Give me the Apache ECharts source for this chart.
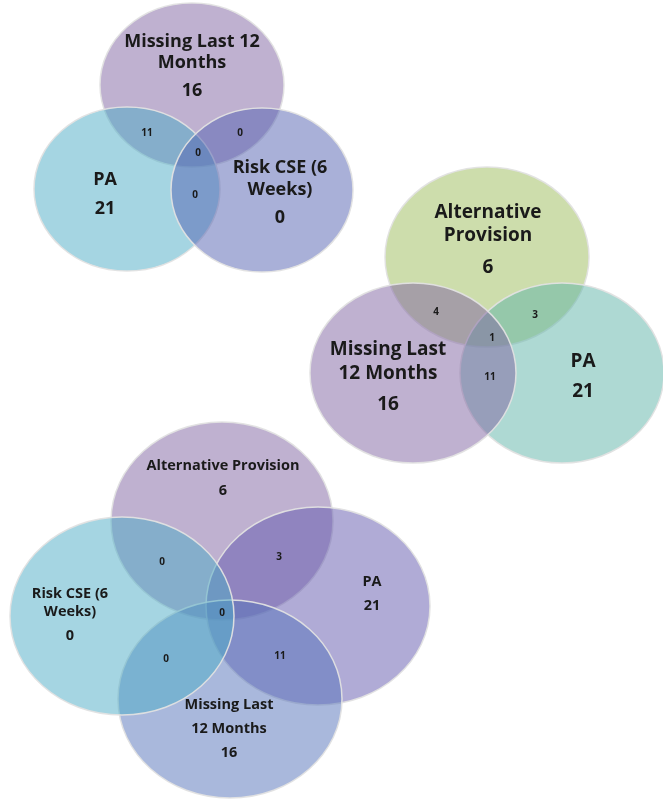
<!DOCTYPE html>
<html>
<head>
<meta charset="utf-8">
<script src="https://cdn.jsdelivr.net/npm/echarts@6/dist/echarts.min.js"></script>
<style>
  html, body { margin: 0; padding: 0; background: #fff; }
  #chart { width: 663px; height: 805px; }
</style>
</head>
<body>
<div id="chart"></div>
<script>
// 数据：每个韦恩图的集合名称、数量和交集数量
const topSets = ['Missing Last 12\nMonths', 'PA', 'Risk CSE (6\nWeeks)']
const topCounts = [16, 21, 0]
const topOverlaps = [11, 0, 0, 0] // Missing∩PA, Missing∩Risk, 三者, PA∩Risk

const midSets = ['Alternative\nProvision', 'PA', 'Missing Last\n12 Months']
const midCounts = [6, 21, 16]
const midOverlaps = [4, 3, 1, 11] // Alt∩Missing, Alt∩PA, 三者, PA∩Missing

const lowSets = ['Alternative Provision', 'PA', 'Missing Last\n12 Months', 'Risk CSE (6\nWeeks)']
const lowCounts = [6, 21, 16, 0]
const lowOverlaps = [0, 3, 0, 0, 11] // Alt∩Risk, Alt∩PA, 中心, Risk∩Missing, PA∩Missing

// 布局（坐标轴单位 = 像素）：椭圆 [cx, cy, rx, ry]，标签 [x, 名称y, 数量y, 行高]
const layout = {
  top: {
    ellipses: [[192, 85, 92, 82], [127, 189, 93, 82], [262, 190, 91, 82]],
    colors: ['#8064A2', '#4BACC6', '#5361B1'],
    labels: [[192, 52, 91, 21], [105, 180, 209, 21], [280, 179, 218, 22]],
    overlapPos: [[147, 133], [240, 133], [198, 153], [195, 195]],
    font: 18
  },
  mid: {
    ellipses: [[487, 257, 102, 90], [562, 373, 102, 90], [413, 373, 103, 90]],
    colors: ['#9BBB59', '#5DB3A7', '#8064A2'],
    labels: [[488, 224, 268, 23], [583, 362, 392, 23], [388, 362, 405, 24]],
    overlapPos: [[436, 312], [535, 315], [492, 338], [490, 377]],
    font: 19
  },
  low: {
    ellipses: [[222, 521, 111, 99], [318, 606, 112, 99], [230, 699, 112, 99], [122, 616, 112, 99]],
    colors: ['#8064A2', '#6157AD', '#5371B9', '#4BACC6'],
    labels: [[223, 466, 491, 18], [372, 582, 606, 18], [229, 717, 753, 24], [70, 603, 636, 18]],
    overlapPos: [[162, 562], [279, 557], [222, 613], [166, 659], [280, 656]],
    font: 14.5
  }
}

const diagrams = [
  { key: 'top', sets: topSets, counts: topCounts, overlaps: topOverlaps },
  { key: 'mid', sets: midSets, counts: midCounts, overlaps: midOverlaps },
  { key: 'low', sets: lowSets, counts: lowCounts, overlaps: lowOverlaps }
]

const fontFamily = '"Open Sans", Lato, sans-serif'

// 椭圆
const ellipseData = []
diagrams.forEach(d => {
  const l = layout[d.key]
  d.sets.forEach((name, i) => {
    const e = l.ellipses[i]
    ellipseData.push({ name, value: [e[0], e[1], e[2], e[3]], color: l.colors[i] })
  })
})

// 文本
const labelData = []
diagrams.forEach(d => {
  const l = layout[d.key]
  d.sets.forEach((name, i) => {
    const p = l.labels[i]
    labelData.push({ value: [p[0], p[1]], text: name, size: l.font, lh: p[3] })
    labelData.push({ value: [p[0], p[2]], text: String(d.counts[i]), size: l.font, lh: p[3] })
  })
  d.overlaps.forEach((v, i) => {
    const p = l.overlapPos[i]
    labelData.push({ value: [p[0], p[1]], text: String(v), size: 10, lh: 12 })
  })
})

const chart = echarts.init(document.getElementById('chart'))

chart.setOption({
  backgroundColor: '#ffffff',
  animation: false,
  grid: { left: 0, right: 0, top: 0, bottom: 0 },
  xAxis: { type: 'value', min: 0, max: 663, show: false },
  yAxis: { type: 'value', min: 0, max: 805, inverse: true, show: false },
  series: [
    {
      type: 'custom',
      coordinateSystem: 'cartesian2d',
      data: ellipseData,
      renderItem: (params, api) => {
        const item = ellipseData[params.dataIndex]
        const c = api.coord([api.value(0), api.value(1)])
        const e = api.coord([api.value(0) + api.value(2), api.value(1) + api.value(3)])
        return {
          type: 'ellipse',
          shape: { cx: c[0], cy: c[1], rx: e[0] - c[0], ry: e[1] - c[1] },
          style: {
            fill: echarts.color.modifyAlpha(item.color, 0.5),
            stroke: 'rgba(225,225,225,0.95)',
            lineWidth: 1.5
          }
        }
      }
    },
    {
      type: 'custom',
      coordinateSystem: 'cartesian2d',
      data: labelData,
      z: 5,
      renderItem: (params, api) => {
        const item = labelData[params.dataIndex]
        const p = api.coord([api.value(0), api.value(1)])
        return {
          type: 'text',
          x: p[0],
          y: p[1],
          style: {
            text: item.text,
            fill: '#1a1a1a',
            font: `bold ${item.size}px ${fontFamily}`,
            lineHeight: item.lh,
            align: 'center',
            verticalAlign: 'middle'
          }
        }
      }
    }
  ]
})
</script>
</body>
</html>
